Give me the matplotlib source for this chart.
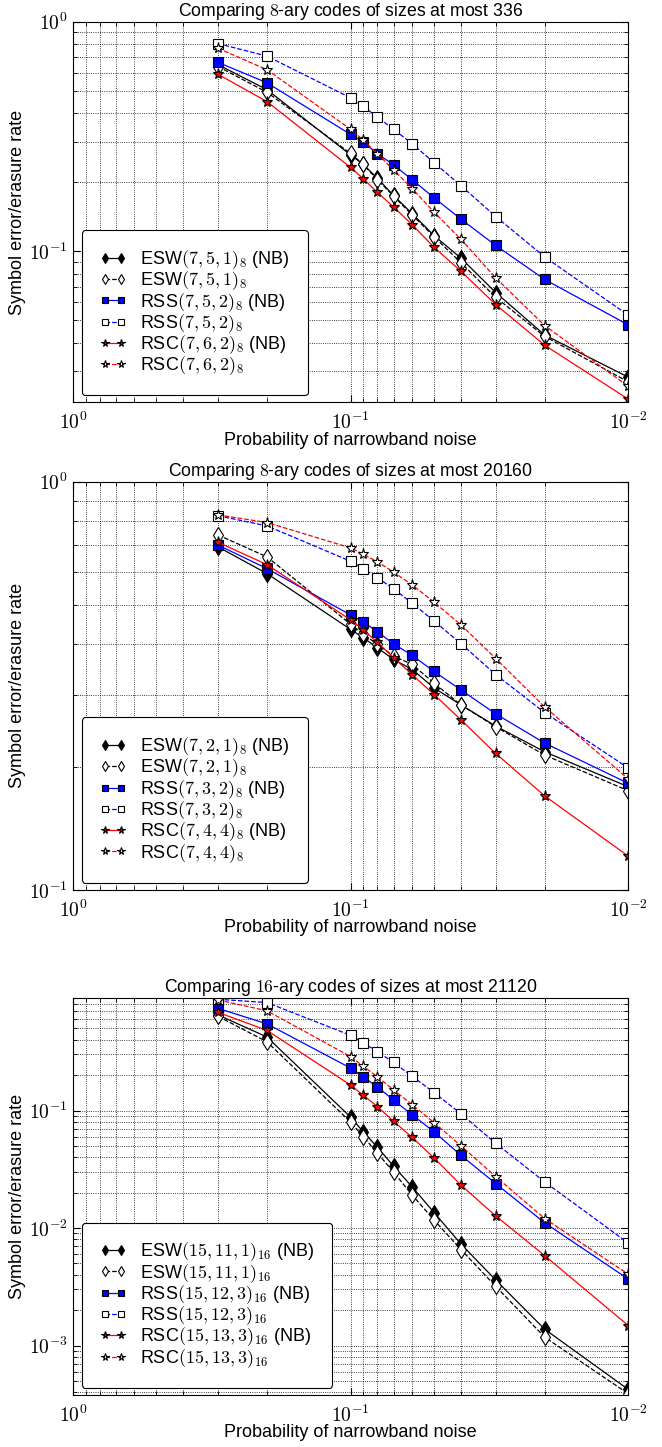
import matplotlib
matplotlib.use("Agg")
import matplotlib.pyplot as plt
from matplotlib.ticker import LogLocator, FuncFormatter, NullFormatter
import numpy as np

plt.rcParams['font.family'] = ['Liberation Sans', 'DejaVu Sans']
plt.rcParams['mathtext.fontset'] = 'cm'

# probability of narrowband noise
p = [0.3, 0.2, 0.1, 0.09, 0.08, 0.07, 0.06, 0.05, 0.04, 0.03, 0.02, 0.01]

# panel 1: 8-ary, sizes at most 336
esw_nb_1 = [0.650, 0.506, 0.263, 0.239, 0.208, 0.175, 0.146, 0.117, 0.0933, 0.0661, 0.0432, 0.0283]
esw_1 = [0.638, 0.493, 0.267, 0.239, 0.205, 0.174, 0.144, 0.1156, 0.0891, 0.063, 0.0426, 0.027]
rss_nb_1 = [0.665, 0.542, 0.323, 0.299, 0.266, 0.238, 0.205, 0.171, 0.138, 0.106, 0.0754, 0.0478]
rss_1 = [0.803, 0.708, 0.466, 0.428, 0.384, 0.340, 0.294, 0.243, 0.193, 0.1417, 0.0945, 0.0527]
rsc_nb_1 = [0.590, 0.449, 0.232, 0.207, 0.1805, 0.156, 0.1306, 0.104, 0.0818, 0.0586, 0.039, 0.0227]
rsc_1 = [0.766, 0.618, 0.340, 0.305, 0.266, 0.226, 0.1875, 0.148, 0.1127, 0.0766, 0.0475, 0.0258]
labels_1 = [r'ESW$(7,5,1)_8$ (NB)', r'ESW$(7,5,1)_8$', r'RSS$(7,5,2)_8$ (NB)',
            r'RSS$(7,5,2)_8$', r'RSC$(7,6,2)_8$ (NB)', r'RSC$(7,6,2)_8$']

# panel 2: 8-ary, sizes at most 20160
esw_nb_2 = [0.693, 0.596, 0.435, 0.415, 0.392, 0.367, 0.347, 0.3125, 0.284, 0.252, 0.218, 0.179]
esw_2 = [0.741, 0.655, 0.448, 0.423, 0.400, 0.374, 0.357, 0.321, 0.284, 0.251, 0.214, 0.175]
rss_nb_2 = [0.700, 0.613, 0.472, 0.454, 0.429, 0.401, 0.3755, 0.343, 0.309, 0.270, 0.229, 0.1825]
rss_2 = [0.826, 0.780, 0.639, 0.613, 0.582, 0.547, 0.504, 0.456, 0.401, 0.337, 0.272, 0.199]
rsc_nb_2 = [0.711, 0.627, 0.459, 0.434, 0.404, 0.371, 0.337, 0.301, 0.261, 0.216, 0.170, 0.121]
rsc_2 = [0.830, 0.795, 0.689, 0.665, 0.637, 0.601, 0.559, 0.507, 0.446, 0.369, 0.281, 0.187]
labels_2 = [r'ESW$(7,2,1)_8$ (NB)', r'ESW$(7,2,1)_8$', r'RSS$(7,3,2)_8$ (NB)',
            r'RSS$(7,3,2)_8$', r'RSC$(7,4,4)_8$ (NB)', r'RSC$(7,4,4)_8$']

# panel 3: 16-ary, sizes at most 21120
esw_nb_3 = [0.651, 0.423, 0.088, 0.0659, 0.0488, 0.0336, 0.02244, 0.01352, 0.0073, 0.00361, 0.001378, 0.000423]
esw_3 = [0.634, 0.385, 0.0799, 0.0599, 0.0434, 0.02995, 0.0191, 0.01167, 0.00655, 0.00319, 0.00118, 0.000389]
rss_nb_3 = [0.740, 0.547, 0.230, 0.194, 0.1587, 0.1228, 0.092, 0.0659, 0.0415, 0.0239, 0.01108, 0.00368]
rss_3 = [0.885, 0.830, 0.437, 0.377, 0.317, 0.257, 0.196, 0.142, 0.0938, 0.0526, 0.0247, 0.00745]
rsc_nb_3 = [0.685, 0.4815, 0.165, 0.135, 0.108, 0.0809, 0.0591, 0.03945, 0.02317, 0.01268, 0.00583, 0.00148]
rsc_3 = [0.874, 0.707, 0.288, 0.2377, 0.194, 0.1498, 0.1122, 0.0789, 0.05003, 0.02737, 0.01205, 0.004048]
labels_3 = [r'ESW$(15,11,1)_{16}$ (NB)', r'ESW$(15,11,1)_{16}$', r'RSS$(15,12,3)_{16}$ (NB)',
            r'RSS$(15,12,3)_{16}$', r'RSC$(15,13,3)_{16}$ (NB)', r'RSC$(15,13,3)_{16}$']

titles = [r'Comparing $8$-ary codes of sizes at most 336',
          r'Comparing $8$-ary codes of sizes at most 20160',
          r'Comparing $16$-ary codes of sizes at most 21120']
ylims = [(0.022, 1.0), (0.1, 1.0), (3.8e-4, 0.9)]

# colour, linestyle, marker, face colour, marker size
styles = [('k', '-', 'd', 'k', 8),
          ('k', '--', 'd', 'w', 8),
          ('b', '-', 's', 'b', 7),
          ('b', '--', 's', 'w', 7),
          ('r', '-', '*', 'r', 8),
          ('r', '--', '*', 'w', 8)]

panels = [(esw_nb_1, esw_1, rss_nb_1, rss_1, rsc_nb_1, rsc_1),
          (esw_nb_2, esw_2, rss_nb_2, rss_2, rsc_nb_2, rsc_2),
          (esw_nb_3, esw_3, rss_nb_3, rss_3, rsc_nb_3, rsc_3)]
all_labels = [labels_1, labels_2, labels_3]

fig = plt.figure(figsize=(6.62, 14.47), dpi=100)
positions = [[0.110, 0.722, 0.839, 0.263],
             [0.110, 0.385, 0.839, 0.282],
             [0.110, 0.036, 0.839, 0.274]]

pow_fmt = FuncFormatter(lambda v, pos: r'$10^{%d}$' % int(round(np.log10(v))))

for k in range(3):
    ax = fig.add_axes(positions[k])
    for series, lab, st in zip(panels[k], all_labels[k], styles):
        c, ls, mk, fc, ms = st
        ax.plot(p, series, color=c, linestyle=ls, linewidth=0.9, marker=mk,
                markerfacecolor=fc, markeredgecolor='k', markeredgewidth=0.8,
                markersize=ms, label=lab)
    ax.set_xscale('log')
    ax.set_yscale('log')
    ax.set_xlim(1, 0.01)
    ax.set_ylim(*ylims[k])
    for a in (ax.xaxis, ax.yaxis):
        a.set_major_locator(LogLocator(base=10))
        a.set_minor_locator(LogLocator(base=10, subs=np.arange(2, 10)))
        a.set_major_formatter(pow_fmt)
        a.set_minor_formatter(NullFormatter())
    ax.grid(True, which='both', linestyle=':', color='k', linewidth=0.6)
    ax.tick_params(which='both', direction='in', top=True, right=True, labelsize=14)
    ax.tick_params(axis='x', which='major', pad=7)
    ax.tick_params(which='major', length=5)
    ax.tick_params(which='minor', length=3)
    for s in ax.spines.values():
        s.set_linewidth(0.8)
    ax.set_title(titles[k], fontsize=12.7, pad=2)
    ax.set_xlabel('Probability of narrowband noise', fontsize=13, labelpad=-1)
    ax.set_ylabel('Symbol error/erasure rate', fontsize=13, labelpad=2)
    leg = ax.legend(loc='lower left', bbox_to_anchor=(0.016, 0.018), borderaxespad=0,
                    fontsize=13, numpoints=2, handlelength=1.45, markerscale=0.7,
                    fancybox=True, framealpha=1, edgecolor='k', labelspacing=-0.08,
                    borderpad=1.0, handletextpad=0.8)
    leg.get_frame().set_linewidth(0.8)

fig.savefig('out.png', dpi=100)
